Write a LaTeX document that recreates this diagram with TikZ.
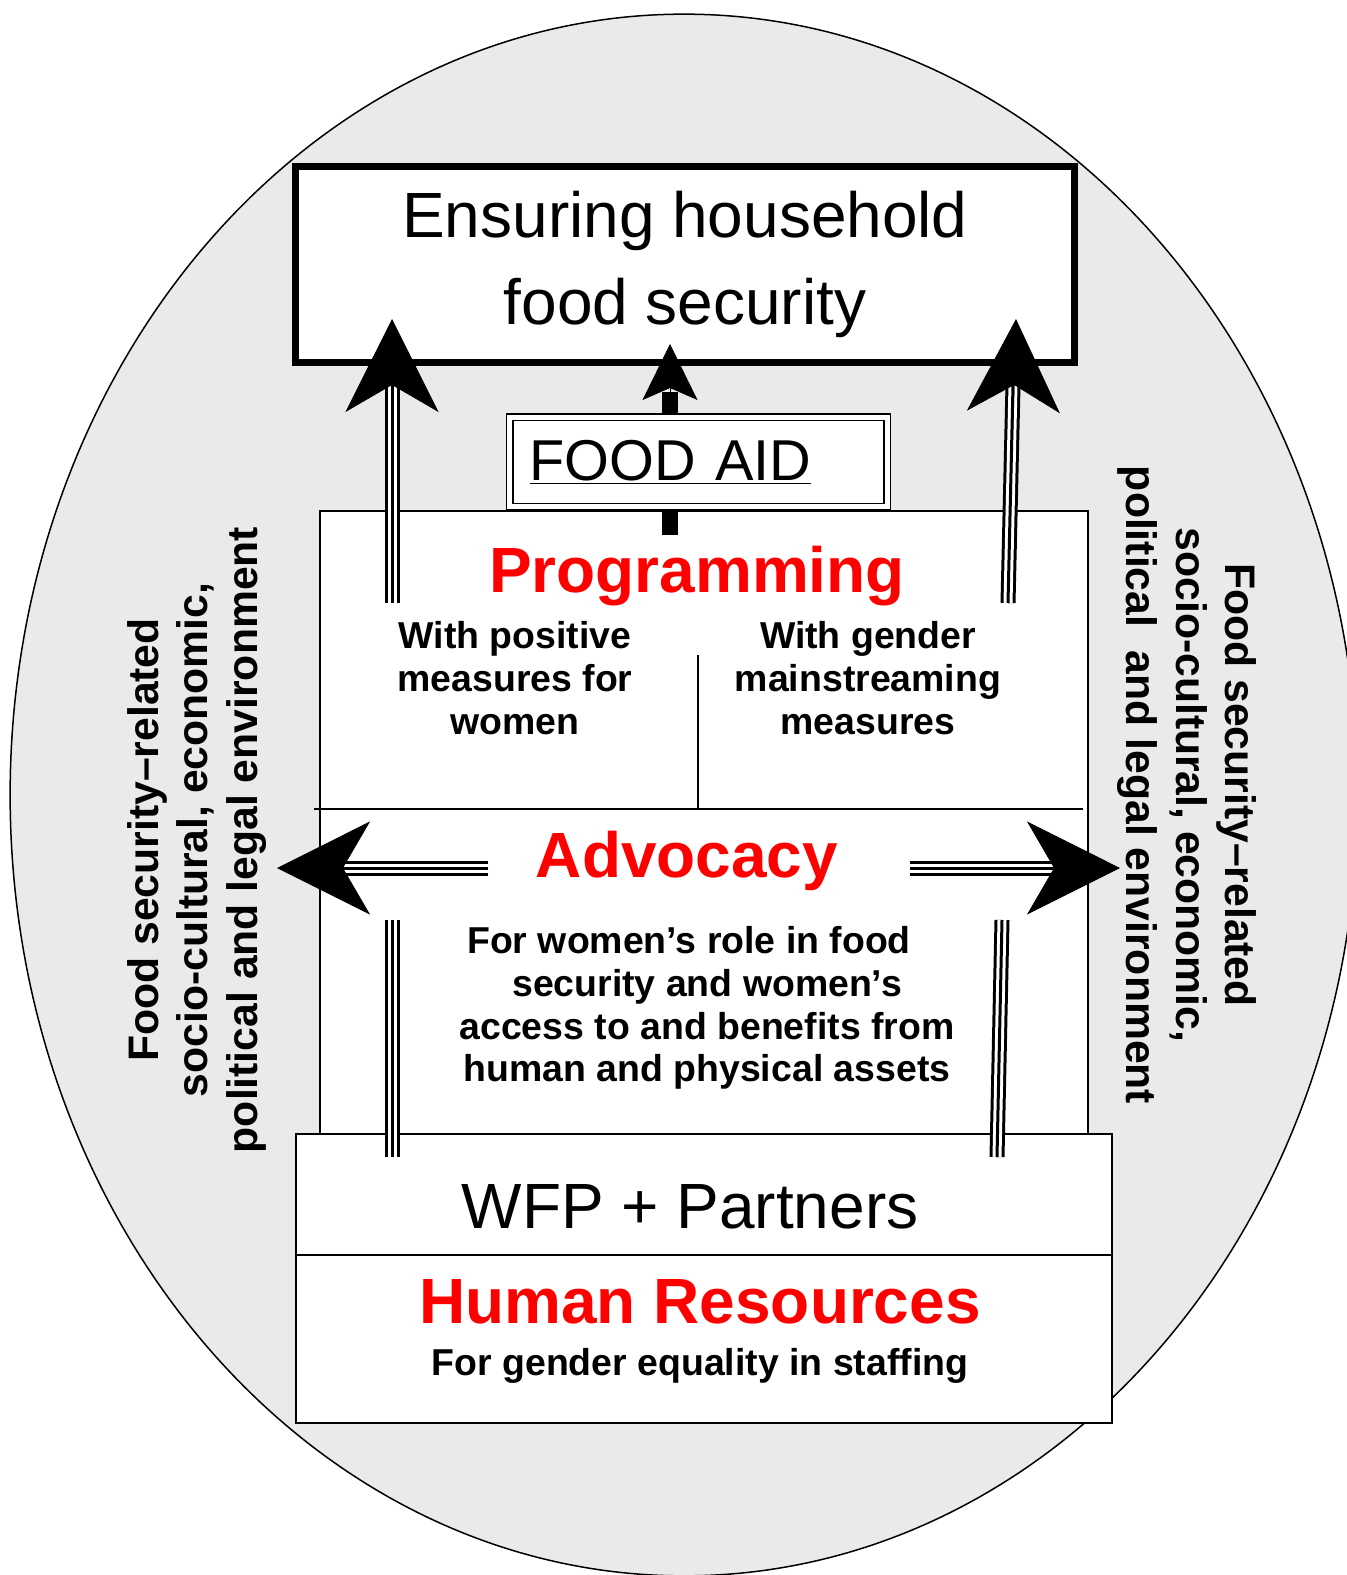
\documentclass[tikz,border=0pt]{standalone}
\usepackage{fontspec}
\setmainfont{Liberation Sans}
\usepackage{tikz}
\usetikzlibrary{arrows.meta}
\usetikzlibrary{positioning}
\definecolor{ovalgray}{RGB}{234,234,234}
\definecolor{hlred}{RGB}{255,0,0}
\newcommand{\hugetxt}{\fontsize{36.4}{49}\selectfont}
\newcommand{\aidtxt}{\fontsize{32.8}{38}\selectfont}
\newcommand{\bodytxt}{\fontsize{21.3}{24.4}\selectfont\bfseries}
\newcommand{\sidetxt}{\fontsize{24.3}{28.3}\selectfont\bfseries}
\tikzstyle{box} = [draw, line width=0.04cm, fill=white, inner sep=0pt, outer sep=0pt]
\tikzstyle{triple} = [line width=0.06cm, double=white, double distance=0.18cm]
\tikzstyle{midline} = [line width=0.06cm]
\tikzstyle{bighead} = [-{Stealth[length=1.86cm, width=1.86cm, inset=0.54cm]}, line width=0.4pt]
\tikzstyle{smallhead} = [-{Stealth[length=1.12cm, width=1.1cm, inset=0.24cm]}, line width=0.4pt]
\newcommand{\tripleline}[2]{\draw[triple] (#1) -- (#2); \draw[midline] (#1) -- (#2);}

\begin{document}
\begin{tikzpicture}[x=0.02cm, y=-0.02cm]
\useasboundingbox (0,0) rectangle (1346,1575);

% Environment
\draw[line width=0.03cm, fill=ovalgray] (684,795) ellipse [x radius=13.48cm, y radius=15.62cm];

% Nodes
\node[box, minimum width=15.36cm, minimum height=12.46cm] (prog) at (704,822.5) {};
\draw[line width=0.03cm] (314,809) -- (1083,809);
\draw[line width=0.03cm] (698,655) -- (698,809);
\node[box, minimum width=16.32cm, minimum height=2.42cm] (partners) at (704,1194.5) {};
\node[box, minimum width=16.32cm, minimum height=3.36cm, below=0pt of partners] (hr) {};
\node[draw, line width=0.14cm, fill=white, minimum width=15.58cm, minimum height=3.92cm, align=center, font=\hugetxt] (goal) at (685,264.5) {Ensuring household\\food security};

% Food aid
\coordinate (fa0) at (670,535);
\coordinate (faN) at (670,392);
\coordinate (faT) at (670,344);
\draw[line width=0.32cm] (fa0) -- (faN);
\draw[smallhead] (faN) -- (faT);
\node[draw, double, line width=0.03cm, double distance=0.1cm, fill=white, minimum width=7.56cm, minimum height=1.8cm, inner xsep=0.4cm, text width=6.76cm, align=left, font=\aidtxt] (foodaid) at (698.5,462) {\underline{FOOD AID}};

% Arrows up
\coordinate (lup0) at (392,603);
\coordinate (lupN) at (392,385);
\coordinate (lupT) at (392,319);
\coordinate (rup0) at (1008,603);
\coordinate (rupN) at (1013,385);
\coordinate (rupT) at (1016,319);
\tripleline{lup0}{lupN}
\draw[bighead] (lup0) -- (lupT);
\tripleline{rup0}{rupN}
\draw[bighead] (rup0) -- (rupT);

% Arrows out
\coordinate (ladv0) at (488,868);
\coordinate (ladvN) at (343,868);
\coordinate (ladvT) at (277,868);
\coordinate (radv0) at (910,868);
\coordinate (radvN) at (1054,868);
\coordinate (radvT) at (1120,868);
\tripleline{ladv0}{ladvN}
\draw[bighead] (ladv0) -- (ladvT);
\tripleline{radv0}{radvN}
\draw[bighead] (radv0) -- (radvT);

% Lines from partners
\coordinate (lbot0) at (392,1157);
\coordinate (lbot1) at (392,920);
\coordinate (rbot0) at (997,1157);
\coordinate (rbot1) at (1002,920);
\tripleline{lbot0}{lbot1}
\tripleline{rbot0}{rbot1}

% Texts
\node[anchor=base, text=hlred, font=\hugetxt\bfseries] (progtxt) at (697,592) {Programming};
\node[align=center, font=\bodytxt] (posm) at (515,678) {With positive\\measures for\\women};
\node[align=center, font=\bodytxt] (gendm) at (868,678) {With gender\\mainstreaming\\measures};
\node[anchor=base, text=hlred, font=\hugetxt\bfseries] (advtxt) at (687,877) {Advocacy};
\node[align=center, font=\bodytxt] (advbody) at (707,1008) {For women’s role in food\hspace*{0.72cm}\\security and women’s\\access to and benefits from\\human and physical assets};
\node[anchor=base, font=\hugetxt] (wfptxt) at (690,1228) {WFP + Partners};
\node[anchor=base, text=hlred, font=\hugetxt\bfseries] (hrtxt) at (700,1323) {Human Resources};
\node[anchor=base, font=\bodytxt] (hrbody) at (700,1375) {For gender equality in staffing};
\node[rotate=90, align=center, font=\sidetxt] (envleft) at (197,840) {Food security–related\\socio-cultural, economic,\\political and legal environment};
\node[rotate=-90, align=center, font=\sidetxt] (envright) at (1187,785) {Food security–related\\socio-cultural, economic,\\political\ \ and legal environment};

\end{tikzpicture}
\end{document}
